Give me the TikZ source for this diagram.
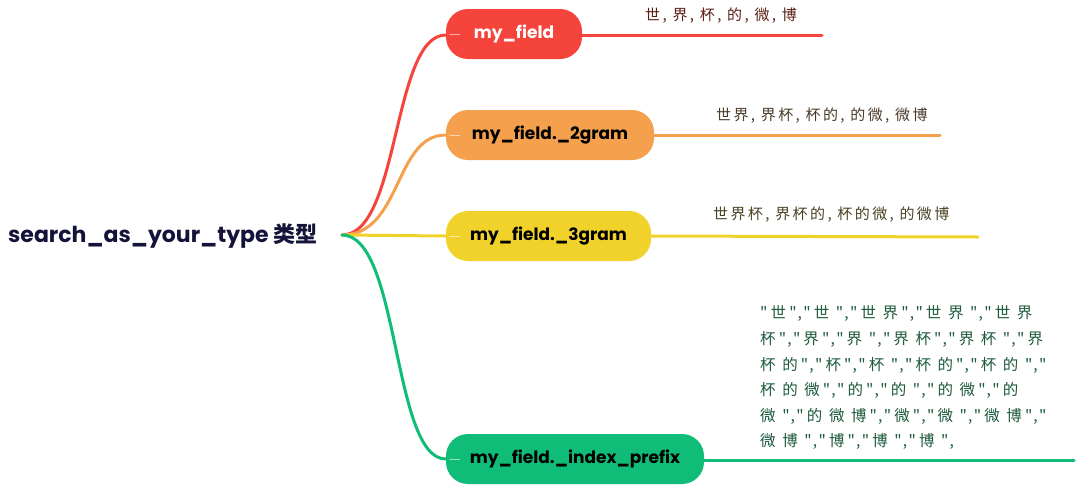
\documentclass[tikz,border=0pt]{standalone}
\usepackage{fontspec}
\setmainfont{Poppins}
\newfontfamily\cjk{Noto Sans CJK SC}
\newfontfamily\cjksp{Noto Sans CJK SC}[LetterSpace=16]
\newfontfamily\cjkwide{Noto Sans CJK SC}[LetterSpace=20]
\definecolor{cred}{HTML}{F5443B}
\definecolor{corange}{HTML}{F5A04D}
\definecolor{cyellow}{HTML}{F1D22A}
\definecolor{cgreen}{HTML}{10BD78}
\definecolor{croot}{HTML}{14143A}
\definecolor{tred}{HTML}{5A1F14}
\definecolor{torange}{HTML}{4A3A28}
\definecolor{tyellow}{HTML}{4A4224}
\definecolor{tgreen}{HTML}{1E5A3C}
\tikzset{
  x=1pt,y=1pt,
  pill/.style={rounded corners=22pt, minimum height=50pt, inner sep=0pt, font=\fontsize{17}{20}\selectfont\bfseries},
  conn/.style={line width=3pt, line cap=round},
  mark line/.style={white, opacity=0.55, line width=1pt, line cap=round},
  lab/.style={font=\cjksp\fontsize{15}{18}\selectfont, inner sep=0pt, anchor=west},
  glab/.style={font=\cjkwide\fontsize{15.5}{18}\selectfont, inner sep=0pt, anchor=west, text=tgreen},
}
\begin{document}
\begin{tikzpicture}
\useasboundingbox (0,0) rectangle (1080,-493);
% root
\node[anchor=west, inner sep=0pt, text=croot, font=\fontsize{22}{26}\selectfont\bfseries] (root) at (8,-236) {search\_as\_your\_type {\cjk 类型}};
\coordinate (r) at (342,-235);
% pills
\node[pill, fill=cred, text=white, minimum width=136pt] (p1) at (514,-34) {my\_field};
\node[pill, fill=corange, text=black, minimum width=208pt] (p2) at (550,-135) {my\_field.\_2gram};
\node[pill, fill=cyellow, text=black, minimum width=205pt] (p3) at (548.5,-236) {my\_field.\_3gram};
\node[pill, fill=cgreen, text=black, minimum width=258pt] (p4) at (575,-459) {my\_field.\_index\_prefix};
% sketch marks
\foreach \p in {p1,p2,p3,p4}{
  \draw[mark line] ([xshift=4pt]\p.west) -- ++(10,0);
  \draw[mark line] ([xshift=30pt,yshift=-3pt]\p.south west) -- ([xshift=-40pt,yshift=-3pt]\p.south east);
}
% connectors
\draw[conn, cred] (r) .. controls (400,-235) and (392,-35) .. (p1.west |- 0,-35);
\draw[conn, corange] (r) .. controls (402,-235) and (394,-135) .. (p2.west);
\draw[conn, cyellow] (r) -- (p3.west);
\draw[conn, cgreen] (r) .. controls (400,-235) and (392,-459) .. (p4.west);
% leaf lines
\coordinate (e1) at (822,-35);
\coordinate (e2) at (940,-135);
\coordinate (e3) at (978,-237);
\coordinate (e4) at (1074,-460);
\draw[conn, cred] (p1.east |- 0,-35) -- (e1);
\draw[conn, corange] (p2.east) -- (e2);
\draw[conn, cyellow] (p3.east) -- (e3);
\draw[conn, cgreen] (p4.east |- 0,-460) -- (e4);
% labels
\node[lab, text=tred] (l1) at (645,-16) {世, 界, 杯, 的, 微, 博};
\node[lab, text=torange] (l2) at (716,-116) {世界, 界杯, 杯的, 的微, 微博};
\node[lab, text=tyellow] (l3) at (713,-215) {世界杯, 界杯的, 杯的微, 的微博};
\node[glab] (g1) at (760,-313) {"世","世 ","世 界","世 界 ","世 界};
\node[glab] (g2) at (760,-339) {杯","界","界 ","界 杯","界 杯 ","界};
\node[glab] (g3) at (760,-365) {杯 的","杯","杯 ","杯 的","杯 的 ","};
\node[glab] (g4) at (760,-390) {杯 的 微","的","的 ","的 微","的};
\node[glab] (g5) at (760,-416) {微 ","的 微 博","微","微 ","微 博","};
\node[glab] (g6) at (760,-441) {微 博 ","博","博 ","博 ",};
\end{tikzpicture}
\end{document}
